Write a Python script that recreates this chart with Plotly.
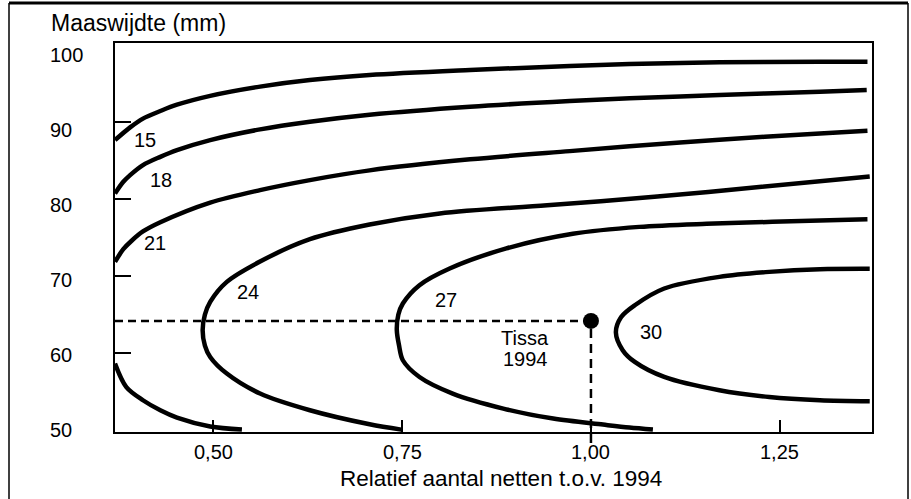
import plotly.graph_objects as go

# ---------------- data ----------------
X_RANGE = [0.370, 1.372]
Y_RANGE = [49.78, 100.26]

x_tick_vals = [0.50, 0.75, 1.00, 1.25]
x_tick_text = ["0,50", "0,75", "1,00", "1,25"]
y_tick_vals = [50, 60, 70, 80, 90, 100]
y_tick_text = ["50", "60", "70", "80", "90", "100"]
y_tick_marks = [60, 70, 80, 90]

c15_x = [0.370, 0.390, 0.407, 0.430, 0.452, 0.496, 0.562, 0.628, 0.707, 0.840, 0.972, 1.051, 1.170, 1.303, 1.366]
c15_y = [87.66, 89.31, 90.45, 91.43, 92.25, 93.4, 94.6, 95.45, 96.1, 96.75, 97.27, 97.53, 97.75, 97.83, 97.83]

c18_x = [0.370, 0.381, 0.390, 0.407, 0.430, 0.452, 0.496, 0.562, 0.628, 0.707, 0.840, 0.972, 1.051, 1.170, 1.303, 1.365]
c18_y = [80.74, 82.25, 83.12, 84.42, 85.49, 86.36, 87.66, 89.05, 90.04, 90.95, 91.99, 92.73, 93.08, 93.51, 93.94, 94.16]

c21_upper_x = [0.370, 0.381, 0.392, 0.407, 0.430, 0.496, 0.562, 0.628, 0.707, 0.840, 0.972, 1.051, 1.170, 1.303, 1.366]
c21_upper_y = [71.86, 73.5, 74.6, 75.8, 77.0, 79.55, 81.17, 82.47, 83.73, 85.16, 86.23, 86.85, 87.7, 88.53, 88.87]
c21_lower_x = [0.370, 0.385, 0.407, 0.430, 0.452, 0.496, 0.538]
c21_lower_y = [58.66, 55.6, 53.9, 52.6, 51.65, 50.5, 50.1]

c24_x = [1.369, 1.226, 1.084, 0.942, 0.800, 0.707, 0.628, 0.562, 0.518, 0.496, 0.489,
         0.486, 0.489, 0.496, 0.518, 0.562, 0.628, 0.707, 0.749]
c24_y = [82.95, 81.6, 80.3, 79.2, 78.14, 76.7, 74.8, 71.9, 69.26, 66.66, 65.0,
         63.0, 61.0, 59.52, 57.36, 54.77, 52.6, 50.78, 50.09]

c27_x = [1.366, 1.240, 1.153, 1.064, 0.976, 0.888, 0.813, 0.773, 0.751, 0.745,
         0.743, 0.746, 0.751, 0.773, 0.817, 0.884, 0.950, 1.016, 1.051, 1.082]
c27_y = [77.38, 77.05, 76.8, 76.4, 75.5, 73.6, 71.0, 68.83, 66.45, 65.0,
         63.0, 61.0, 59.09, 56.92, 54.77, 52.82, 51.52, 50.74, 50.35, 50.09]

c30_x = [1.369, 1.303, 1.236, 1.170, 1.097, 1.058, 1.040, 1.033, 1.042, 1.058, 1.097, 1.170, 1.236, 1.303, 1.369]
c30_y = [70.95, 70.9, 70.56, 69.91, 68.40, 66.23, 64.7, 62.7, 60.4, 58.87, 56.92, 55.19, 54.32, 53.90, 53.77]

label_text = ["15", "18", "21", "24", "27", "30"]
label_x = [0.410, 0.431, 0.423, 0.546, 0.808, 1.079]
label_y = [87.7, 82.5, 74.3, 67.9, 66.95, 62.7]

tissa_x = [1.00]
tissa_y = [64.2]
tissa_label = ["Tissa", "1994"]
tissa_label_x = [0.913, 0.913]
tissa_label_y = [61.95, 59.2]

# ---------------- layout helpers ----------------
W, H = 911, 499
ML, MR, MT, MB = 115, 39, 43, 67
PW, PH = W - ML - MR, H - MT - MB
FONT = "Liberation Sans, Arial, Helvetica, sans-serif"


def px(xp):
    return (xp - ML) / PW


def py(yp):
    return (H - MB - yp) / PH


def ypaper(v):
    return (v - Y_RANGE[0]) / (Y_RANGE[1] - Y_RANGE[0])


fig = go.Figure()

line_style = dict(color="black", width=4.5, shape="spline", smoothing=0.9)
for xs, ys in [(c15_x, c15_y), (c18_x, c18_y), (c21_upper_x, c21_upper_y),
               (c21_lower_x, c21_lower_y), (c24_x, c24_y), (c27_x, c27_y), (c30_x, c30_y)]:
    fig.add_trace(go.Scatter(x=xs, y=ys, mode="lines", line=line_style,
                             hoverinfo="skip", showlegend=False))

fig.add_trace(go.Scatter(x=tissa_x, y=tissa_y, mode="markers",
                         marker=dict(size=16, color="black"), cliponaxis=False,
                         hoverinfo="skip", showlegend=False))

shapes = [
    # dashed reference lines to the Tissa 1994 point
    dict(type="line", xref="x", yref="y", x0=X_RANGE[0], x1=tissa_x[0],
         y0=tissa_y[0], y1=tissa_y[0], line=dict(color="black", width=2.5, dash="8px,5px")),
    dict(type="line", xref="x", yref="paper", x0=tissa_x[0], x1=tissa_x[0],
         y0=py(443), y1=ypaper(tissa_y[0]), line=dict(color="black", width=2.5, dash="9px,6px")),
    # outer frame
    dict(type="line", xref="paper", yref="paper", x0=px(9), x1=px(908), y0=py(3), y1=py(3),
         line=dict(color="black", width=3)),
    dict(type="line", xref="paper", yref="paper", x0=px(9), x1=px(9), y0=py(3), y1=py(505),
         line=dict(color="black", width=1.5)),
    dict(type="line", xref="paper", yref="paper", x0=px(908), x1=px(908), y0=py(3), y1=py(505),
         line=dict(color="black", width=1.5)),
]

annotations = []
for t, x, y in zip(label_text, label_x, label_y):
    annotations.append(dict(x=x, y=y, xref="x", yref="y", text=t, showarrow=False,
                            font=dict(size=20, color="black", family=FONT)))
for t, x, y in zip(tissa_label, tissa_label_x, tissa_label_y):
    annotations.append(dict(x=x, y=y, xref="x", yref="y", text=t, showarrow=False,
                            font=dict(size=20, color="black", family=FONT)))
for t, v in zip(y_tick_text, y_tick_vals):
    # the printed labels sit slightly below their tick marks, increasingly towards the top
    annotations.append(dict(x=px(48), y=v, xref="paper", yref="y", text=t, showarrow=False,
                            xanchor="left", yanchor="middle", yshift=-(v - 50) * 0.19,
                            font=dict(size=20, color="black", family=FONT)))
for t, v in zip(x_tick_text, x_tick_vals):
    annotations.append(dict(x=v, y=py(452), xref="x", yref="paper", text=t, showarrow=False,
                            xanchor="center", yanchor="middle",
                            font=dict(size=20, color="black", family=FONT)))
annotations.append(dict(x=px(49), y=py(23), xref="paper", yref="paper", text="Maaswijdte (mm)",
                        showarrow=False, xanchor="left", yanchor="middle",
                        font=dict(size=23, color="black", family=FONT)))
annotations.append(dict(x=px(501), y=py(478), xref="paper", yref="paper",
                        text="Relatief aantal netten t.o.v. 1994",
                        showarrow=False, xanchor="center", yanchor="middle",
                        font=dict(size=22.5, color="black", family=FONT)))

fig.update_layout(
    width=W, height=H,
    margin=dict(l=ML, r=MR, t=MT, b=MB, pad=0),
    paper_bgcolor="white", plot_bgcolor="white",
    font=dict(family=FONT, color="black"),
    showlegend=False,
    shapes=shapes,
    annotations=annotations,
    xaxis=dict(range=X_RANGE, showgrid=False, zeroline=False, showline=True,
               linecolor="black", linewidth=2, mirror=True,
               ticks="inside", tickvals=x_tick_vals, ticklen=12, tickwidth=1.5,
               tickcolor="black", showticklabels=False, fixedrange=True),
    yaxis=dict(range=Y_RANGE, showgrid=False, zeroline=False, showline=True,
               linecolor="black", linewidth=2, mirror=True,
               ticks="inside", tickvals=y_tick_marks, ticklen=16, tickwidth=1.5,
               tickcolor="black", showticklabels=False, fixedrange=True),
)

fig.write_html("out.html", config={"displayModeBar": False},
               post_script="document.body.style.margin='0';document.body.style.overflow='hidden';")
